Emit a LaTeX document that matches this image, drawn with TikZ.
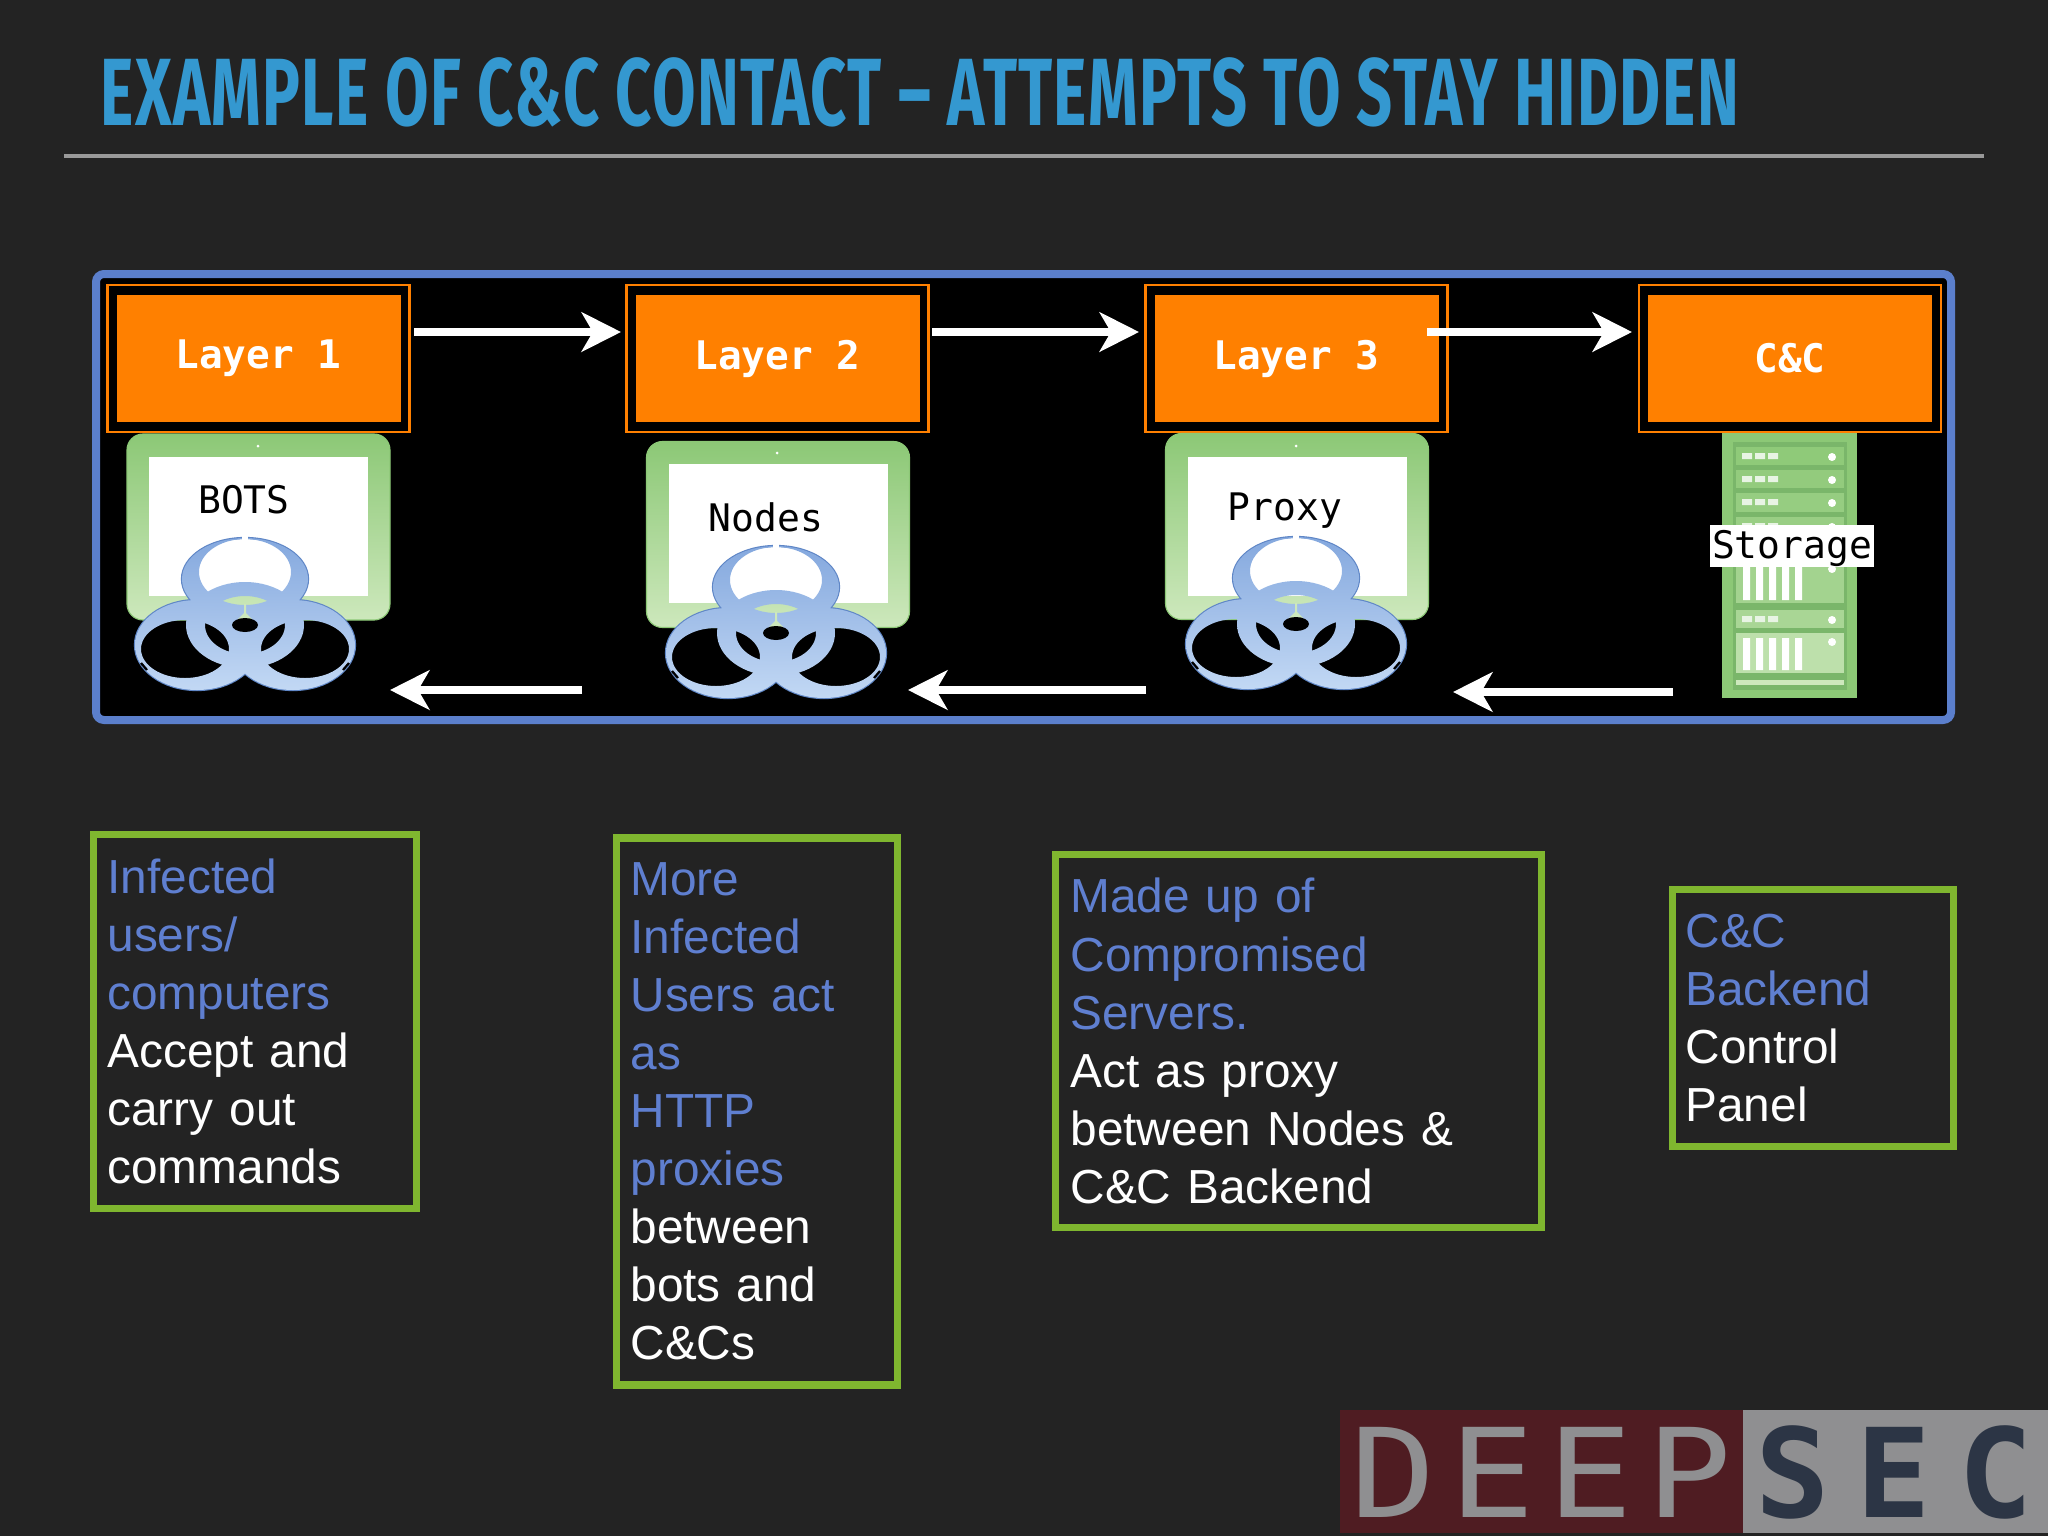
\documentclass[tikz,border=0pt]{standalone}
\usepackage{fontspec}
\usepackage{xcolor}
\setmainfont{Liberation Sans}
\setmonofont{DejaVu Sans Mono}
\newfontfamily\titlefont[FakeStretch=0.66,LetterSpace=1.45]{Fira Sans}
\newfontfamily\logofont[FakeStretch=1.15,LetterSpace=10.5]{DejaVu Sans Mono}
\newfontfamily\logoboldfont[LetterSpace=21.8]{DejaVu Sans Mono Bold}
\usetikzlibrary{positioning,arrows.meta}
\definecolor{slidebg}{RGB}{35,35,35}
\definecolor{titleblue}{RGB}{52,152,208}
\definecolor{panelblue}{RGB}{91,127,204}
\definecolor{textblue}{RGB}{95,127,208}
\definecolor{boxgreen}{RGB}{127,182,47}
\definecolor{layerorange}{RGB}{255,128,0}
\definecolor{tabtop}{RGB}{140,200,118}
\definecolor{tabbottom}{RGB}{205,232,188}
\definecolor{rackdark}{RGB}{122,182,106}
\definecolor{biotop}{RGB}{132,168,222}
\definecolor{biobottom}{RGB}{194,216,244}
\definecolor{bioedge}{RGB}{95,134,198}
\definecolor{logored}{RGB}{79,28,34}
\definecolor{logogrey}{RGB}{143,143,145}
\definecolor{logonavy}{RGB}{44,53,69}
\newlength{\pu}
\setlength{\pu}{0.125mm}
\tikzset{
	layerbox/.style={fill=layerorange, text=white, font=\ttfamily\bfseries\fontsize{14}{16}\selectfont,
		minimum width=284*\pu, minimum height=127*\pu, inner sep=0pt},
	layerframe/.style={draw=layerorange, line width=0.8pt, minimum width=302*\pu, minimum height=147*\pu, inner sep=0pt},
	tabletbox/.style={rounded corners=2mm, top color=tabtop, bottom color=tabbottom, draw=tabtop,
		minimum width=263*\pu, minimum height=186*\pu, inner sep=0pt},
	screenbox/.style={fill=white, minimum width=219*\pu, minimum height=139*\pu, inner sep=0pt},
	tablab/.style={font=\ttfamily\fontsize{13.5}{16}\selectfont, text=black, inner sep=0pt},
	warr/.style={draw=white, line width=2.5pt, -{Stealth[length=14pt, width=14pt, inset=4pt]}},
	descbox/.style={draw=boxgreen, line width=2.6pt, inner ysep=0pt, align=left, text=white,
		font=\fontsize{17}{20.65}\selectfont},
}
\newcommand{\bluetxt}[1]{\textcolor{textblue}{#1}}
% biohazard symbol around its middle point
\newcommand{\biohaz}[1]{
	\begin{scope}[shift={#1}]
		\begin{scope}[even odd rule]
			\clip (-130,-100) rectangle (130,90)
				(0,-53) ellipse [x radius=46, y radius=33]
				(-60,24) ellipse [x radius=44, y radius=29]
				(60,24) ellipse [x radius=44, y radius=29];
			\draw[bioedge, line width=0.8pt]
				(0,-46) ellipse [x radius=63, y radius=41]
				(-48,20) ellipse [x radius=62, y radius=45]
				(48,20) ellipse [x radius=62, y radius=45];
			\shade[top color=biotop, bottom color=biobottom, nonzero rule]
				(0,-46) ellipse [x radius=63, y radius=41]
				(-48,20) ellipse [x radius=62, y radius=45]
				(48,20) ellipse [x radius=62, y radius=45];
		\end{scope}
		\shade[top color=biotop!71!biobottom, bottom color=biotop!14!biobottom, even odd rule]
			(0,0) ellipse [x radius=59, y radius=43]
			(0,0) ellipse [x radius=40, y radius=29];
		\fill[tabbottom] (-1,-21) -- (1,-21) -- (1,-12) -- (7,-6) -- (-7,-6) -- (-1,-12) -- cycle;
		\fill[black] (0,0) ellipse [x radius=13, y radius=7];
		\fill[white] (-3,-90) rectangle (3,-82);
		\draw[black, line width=0.8pt] (-104,38) -- (-98,45);
		\draw[black, line width=0.8pt] (104,38) -- (98,45);
	\end{scope}
}
% one row of the server rack
\newcommand{\srvrow}[3]{
	\fill[tabbottom!#3!tabtop] (1736,#1) rectangle (1844,#2);
	\fill[white!80!tabtop] (1742,#1+6) rectangle +(10,6) (1755,#1+6) rectangle +(10,6) (1768,#1+6) rectangle +(10,6);
	\fill[white] (1832,#1+10) circle (4);
}
% block of the server rack with upright bars
\newcommand{\srvbars}[3]{
	\fill[tabbottom!#3!tabtop] (1736,#1) rectangle (1844,#2);
	\fill[white] (1832,#1+9) circle (4);
	\fill[white] (1743,#1+5) rectangle +(7,#2-#1-8) (1756,#1+5) rectangle +(7,#2-#1-8) (1769,#1+5) rectangle +(7,#2-#1-8) (1782,#1+5) rectangle +(7,#2-#1-8) (1795,#1+5) rectangle +(7,#2-#1-8);
}

\begin{document}
\begin{tikzpicture}[x=0.125mm, y=-0.125mm]
	\useasboundingbox (0,0) rectangle (2048,1536);
	\fill[slidebg] (0,0) rectangle (2048,1536);

	% ------------------- Title -------------------
	\node[text=titleblue, anchor=base west, inner sep=0pt, font=\titlefont\bfseries\fontsize{34}{40}\selectfont] (title) at (100,125)
		{EXAMPLE OF C\&C CONTACT – ATTEMPTS TO STAY HIDDEN};
	\coordinate (ruleL) at (64,156);
	\coordinate (ruleR) at (1984,156);
	\draw[draw=white!60!black, line width=1.1pt] (ruleL) -- (ruleR);

	% ------------------- Black panel -------------------
	\draw[draw=panelblue, fill=black, line width=8*\pu, rounded corners=1mm] (96,274) rectangle (1951,720);

	% ------------------- Layer boxes -------------------
	\node[layerframe] (frameL1) at (258.5,358.5) {};
	\node[layerbox] (layerA) at (258.5,358.5) {Layer 1};
	\node[layerframe] (frameL2) at (777.5,358.5) {};
	\node[layerbox] (layerB) at (777.5,358.5) {Layer 2};
	\node[layerframe] (frameL3) at (1296.5,358.5) {};
	\node[layerbox] (layerC) at (1296.5,358.5) {Layer 3};
	\node[layerframe] (frameCC) at (1790,358.5) {};
	\node[layerbox] (layerD) at (1790,358.5) {C\&C};

	% ------------------- Tablets -------------------
	\node[tabletbox] (tabA) at (258.5,527) {};
	\node[screenbox] (scrA) at (258.5,526) {};
	\fill[white] (258,446) circle (1.5);
	\node[tablab] (labA) at (244,500) {BOTS};
	\biohaz{(245,625)}

	\node[tabletbox] (tabB) at (778,534.5) {};
	\node[screenbox] (scrB) at (778,533.5) {};
	\fill[white] (777,453) circle (1.5);
	\node[tablab] (labB) at (766,517) {Nodes};
	\biohaz{(776,633)}

	\node[tabletbox] (tabC) at (1297,526.5) {};
	\node[screenbox] (scrC) at (1297,526) {};
	\fill[white] (1296,446) circle (1.5);
	\node[tablab] (labC) at (1285,511) {Proxy};
	\biohaz{(1296,624)}

	% ------------------- Server rack -------------------
	\fill[tabtop] (1722,433) rectangle (1857,698);
	\fill[rackdark] (1733,442) rectangle (1847,690);
	\srvrow{447}{465}{5}
	\srvrow{470}{488}{10}
	\srvrow{493}{512}{15}
	\srvrow{517}{560}{20}
	\srvbars{560}{603}{35}
	\srvrow{610}{628}{45}
	\srvbars{633}{673}{75}
	\fill[tabbottom] (1736,680) rectangle (1844,685);
	\node[fill=white, font=\ttfamily\fontsize{13.5}{16}\selectfont, text=black, minimum width=164*\pu, minimum height=42*\pu, inner sep=0pt] (labD) at (1792,546) {\raisebox{-0.9pt}[\height][\depth]{Storage}};

	% ------------------- Arrows -------------------
	\coordinate (fwA) at (414,332);
	\coordinate (fwB) at (621,332);
	\coordinate (fwC) at (932,332);
	\coordinate (fwD) at (1139,332);
	\coordinate (fwE) at (1427,332);
	\coordinate (fwF) at (1632,332);
	\draw[warr] (fwA) -- (fwB);
	\draw[warr] (fwC) -- (fwD);
	\draw[warr] (fwE) -- (fwF);
	\coordinate (bkA) at (582,690);
	\coordinate (bkB) at (390,690);
	\coordinate (bkC) at (1146,690);
	\coordinate (bkD) at (908,690);
	\coordinate (bkE) at (1673,692);
	\coordinate (bkF) at (1453,692);
	\draw[warr] (bkA) -- (bkB);
	\draw[warr] (bkC) -- (bkD);
	\draw[warr] (bkE) -- (bkF);

	% ------------------- Description boxes -------------------
	\node[descbox, inner xsep=14*\pu, text width=295*\pu, minimum height=374*\pu] (descA) at (255,1021.5) {
		\bluetxt{Infected}\\
		\bluetxt{users/}\\
		\bluetxt{computers}\\
		Accept and\\
		carry out\\
		commands};
	\node[descbox, inner xsep=14*\pu, text width=253*\pu, minimum height=547*\pu] (descB) at (757,1111.5) {
		\bluetxt{More}\\
		\bluetxt{Infected}\\
		\bluetxt{Users act}\\
		\bluetxt{as}\\
		\bluetxt{HTTP}\\
		\bluetxt{proxies}\\
		between\\
		bots and\\
		C\&Cs};
	\node[descbox, inner xsep=15*\pu, text width=456*\pu, minimum height=373*\pu] (descC) at (1298.5,1041) {
		\bluetxt{Made up of}\\
		\bluetxt{Compromised}\\
		\bluetxt{Servers.}\\
		Act as proxy\\
		between Nodes \&\\
		C\&C Backend};
	\node[descbox, inner xsep=13*\pu, text width=255*\pu, minimum height=257*\pu] (descD) at (1813,1018) {
		\bluetxt{C\&C}\\
		\bluetxt{Backend}\\
		Control\\
		Panel};

	% ------------------- Logo -------------------
	\fill[logored] (1340,1410) rectangle (1743,1533);
	\fill[logogrey] (1743,1410) rectangle (2048,1533);
	\node[text=logogrey, anchor=base west, inner sep=0pt, font=\logofont\fontsize{44}{50}\selectfont] (logoA) at (1350,1517) {DEEP\kern-4.6pt};
	\node[text=logonavy, anchor=base west, inner sep=0pt, font=\logoboldfont\fontsize{44}{50}\selectfont] (logoB) at (1755,1517) {SEC\kern-9.6pt};

\end{tikzpicture}
\end{document}
